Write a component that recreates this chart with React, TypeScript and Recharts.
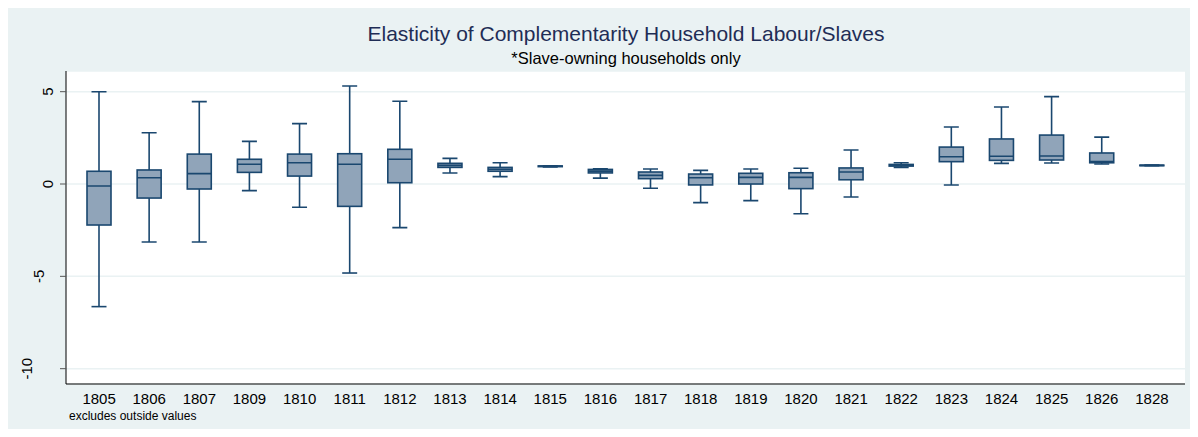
import { ComposedChart, Bar, XAxis, YAxis, CartesianGrid } from 'recharts';

// box plot statistics per year
const years = ['1805', '1806', '1807', '1809', '1810', '1811', '1812', '1813', '1814', '1815', '1816',
    '1817', '1818', '1819', '1820', '1821', '1822', '1823', '1824', '1825', '1826', '1828'];
const lowerWhisker = [-6.64, -3.14, -3.14, -0.36, -1.26, -4.82, -2.36, 0.6, 0.4, 0.92, 0.32,
    -0.23, -1.01, -0.9, -1.61, -0.7, 0.9, -0.05, 1.12, 1.14, 1.08, 0.99];
const q1 = [-2.22, -0.76, -0.27, 0.63, 0.43, -1.21, 0.07, 0.9, 0.69, 0.94, 0.6,
    0.29, -0.05, 0.0, -0.25, 0.23, 0.97, 1.21, 1.28, 1.3, 1.15, 1.0];
const median = [-0.11, 0.34, 0.56, 1.07, 1.15, 1.07, 1.34, 1.01, 0.8, 0.96, 0.7,
    0.47, 0.34, 0.36, 0.36, 0.65, 1.03, 1.48, 1.5, 1.52, 1.21, 1.01];
const q3 = [0.69, 0.76, 1.62, 1.34, 1.62, 1.64, 1.88, 1.12, 0.9, 0.98, 0.79,
    0.65, 0.54, 0.58, 0.61, 0.87, 1.06, 2.0, 2.44, 2.65, 1.68, 1.02];
const upperWhisker = [5.0, 2.78, 4.46, 2.31, 3.27, 5.31, 4.48, 1.39, 1.15, 0.99, 0.83,
    0.81, 0.74, 0.81, 0.85, 1.84, 1.15, 3.09, 4.17, 4.73, 2.54, 1.03];
const yTicks = [-10, -5, 0, 5];

const data = years.map((year, i) => ({
    year,
    lo: lowerWhisker[i],
    q1: q1[i],
    med: median[i],
    q3: q3[i],
    hi: upperWhisker[i],
}));

const FONT = 'Arial, "Liberation Sans", Helvetica, sans-serif';
const NAVY = '#1a476f';
const BOX_FILL = '#90a4b9';

const BoxShape = (props: any) => {
    const { x, y, width, height, payload } = props;
    const top = Math.min(y, y + height);
    const h = Math.abs(height);
    const span = payload.hi - payload.lo;
    // map a value to pixels using the bar's own scaled extent
    const py = (v: number) => top + ((payload.hi - v) / span) * h;
    const cx = x + width / 2;
    const cap = 7.5;
    const yQ3 = py(payload.q3);
    const yQ1 = py(payload.q1);
    return (
        <g stroke={NAVY} strokeWidth={1.6}>
            <line x1={cx} x2={cx} y1={py(payload.hi)} y2={yQ3} />
            <line x1={cx} x2={cx} y1={yQ1} y2={py(payload.lo)} />
            <line x1={cx - cap} x2={cx + cap} y1={py(payload.hi)} y2={py(payload.hi)} />
            <line x1={cx - cap} x2={cx + cap} y1={py(payload.lo)} y2={py(payload.lo)} />
            <rect x={x} y={yQ3} width={width} height={Math.max(yQ1 - yQ3, 0.5)} fill={BOX_FILL} />
            <line x1={x} x2={x + width} y1={py(payload.med)} y2={py(payload.med)} />
        </g>
    );
};

// rotated y labels; Stata shifts longer labels further left
const yLabelX: Record<string, number> = { '5': 48, '0': 48, '-5': 39, '-10': 27 };

const YTick = ({ y, payload }: any) => {
    const label = String(payload.value);
    const lx = yLabelX[label] ?? 45;
    return (
        <text
            x={lx}
            y={y}
            transform={`rotate(-90 ${lx} ${y})`}
            textAnchor="middle"
            dominantBaseline="central"
            fontSize={15}
            fontFamily={FONT}
            fill="#000"
        >
            {label}
        </text>
    );
};

const XTick = ({ x, payload }: any) => (
    <text x={x} y={404} textAnchor="middle" fontSize={15} fontFamily={FONT} fill="#000">
        {payload.value}
    </text>
);

export default function App() {
    return (
        <div style={{ position: 'relative', width: 1198, height: 437, margin: -8, background: '#fff' }}>
            <div
                style={{
                    position: 'absolute',
                    left: 7,
                    top: 7,
                    width: 1191,
                    height: 429,
                    background: '#eaf2f3',
                }}
            />
            <div
                style={{
                    position: 'absolute',
                    left: 326,
                    width: 600,
                    top: 22,
                    textAlign: 'center',
                    fontFamily: FONT,
                    fontSize: 21,
                    color: '#1f2d56',
                }}
            >
                Elasticity of Complementarity Household Labour/Slaves
            </div>
            <div
                style={{
                    position: 'absolute',
                    left: 326,
                    width: 600,
                    top: 49,
                    textAlign: 'center',
                    fontFamily: FONT,
                    fontSize: 16.5,
                    color: '#000',
                }}
            >
                *Slave-owning households only
            </div>
            <div
                style={{
                    position: 'absolute',
                    left: 69,
                    top: 409,
                    fontFamily: FONT,
                    fontSize: 12,
                    color: '#000',
                }}
            >
                excludes outside values
            </div>
            <div style={{ position: 'absolute', left: 0, top: 0 }}>
                <ComposedChart
                    width={1198}
                    height={437}
                    data={data}
                    margin={{ top: 71, right: 13, bottom: 23, left: 6 }}
                    barCategoryGap={0}
                >
                    <CartesianGrid
                        vertical={false}
                        fill="#fff"
                        stroke="#eaf2f3"
                        strokeWidth={1.5}
                    />
                    <XAxis
                        dataKey="year"
                        type="category"
                        height={30}
                        padding={{ left: 8, right: 8 }}
                        axisLine={{ stroke: '#000', strokeWidth: 1 }}
                        tickLine={false}
                        tick={<XTick />}
                        interval={0}
                    />
                    <YAxis
                        type="number"
                        width={60}
                        domain={[-10.83, 6.12]}
                        ticks={yTicks}
                        allowDataOverflow
                        axisLine={{ stroke: '#000', strokeWidth: 1 }}
                        tickLine={{ stroke: '#555', strokeWidth: 1 }}
                        tickSize={6}
                        tick={<YTick />}
                    />
                    <Bar
                        dataKey={(d: any) => [d.lo, d.hi]}
                        barSize={24}
                        shape={<BoxShape />}
                        isAnimationActive={false}
                    />
                </ComposedChart>
            </div>
        </div>
    );
}
